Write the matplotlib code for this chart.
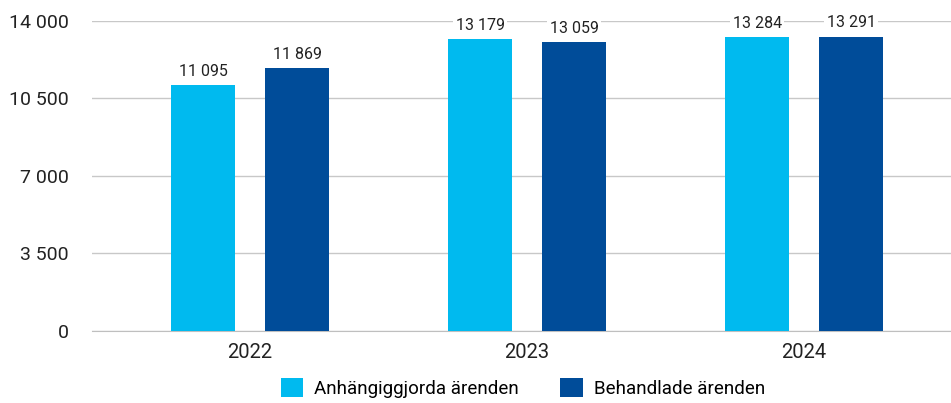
import numpy as np
import matplotlib
matplotlib.use('Agg')
import matplotlib.pyplot as plt
from matplotlib.ticker import FuncFormatter

plt.rcParams['font.family'] = ['Roboto', 'DejaVu Sans']

years = ['2022', '2023', '2024']
anhangiggjorda = [11095, 13179, 13284]
behandlade = [11869, 13059, 13291]
series_names = ['Anhängiggjorda ärenden', 'Behandlade ärenden']
yticks = [0, 3500, 7000, 10500, 14000]

light = '#00BAEF'
dark = '#004C99'


def fmt(v, pos=None):
    return '{:,}'.format(int(v)).replace(',', ' ')


fig = plt.figure(figsize=(9.51, 4.03), dpi=100)
ax = fig.add_axes([0.097, 0.179, 0.903, 0.769])

x = np.arange(len(years))
w = 0.231
off = 0.170
b1 = ax.bar(x - off, anhangiggjorda, w, color=light, label=series_names[0], zorder=3)
b2 = ax.bar(x + off, behandlade, w, color=dark, label=series_names[1], zorder=3)

for bars in (b1, b2):
    for rect in bars:
        h = rect.get_height()
        ax.annotate(fmt(h), (rect.get_x() + rect.get_width() / 2, h),
                    xytext=(0, 4.5), textcoords='offset points',
                    ha='center', va='bottom', fontsize=11.5, color='#222222',
                    bbox=dict(boxstyle='square,pad=0.15', fc='white', ec='none'),
                    zorder=4)

ax.set_ylim(0, 14000)
ax.set_xlim(-0.57, 2.53)
ax.set_yticks(yticks)
ax.yaxis.set_major_formatter(FuncFormatter(fmt))
ax.set_xticks(x)
ax.set_xticklabels(years)
ax.grid(axis='y', color='#C8C8C8', linewidth=1, zorder=0)
ax.set_axisbelow(True)
for s in ['top', 'right', 'left']:
    ax.spines[s].set_visible(False)
ax.spines['bottom'].set_color('#BFBFBF')
ax.tick_params(axis='y', length=0, labelsize=14, pad=17, colors='#222222')
ax.tick_params(axis='x', length=0, labelsize=14.5, pad=9, colors='#222222')

fig.legend(handles=[b1, b2], labels=series_names, loc='lower center',
           bbox_to_anchor=(0.55, -0.03), ncol=2, frameon=False,
           fontsize=13.5, handlelength=1.2, handleheight=1.2,
           columnspacing=2.2, handletextpad=0.6)

fig.savefig('out.png', dpi=100)
